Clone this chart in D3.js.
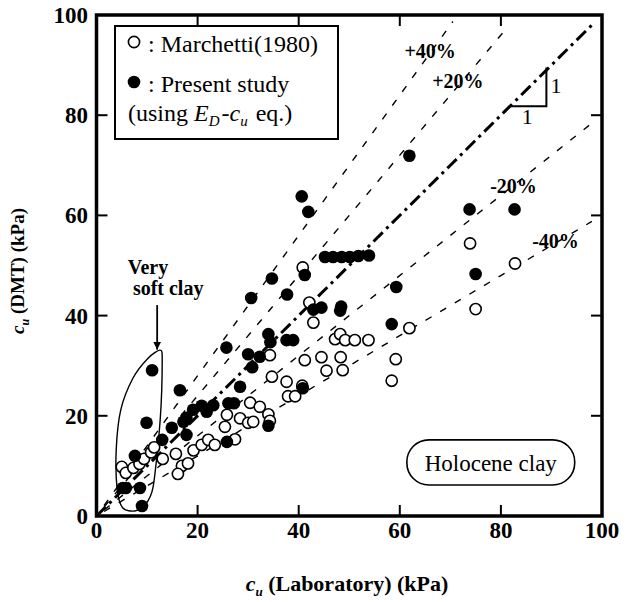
<!DOCTYPE html>
<html>
<head>
<meta charset="utf-8">
<script src="https://cdn.jsdelivr.net/npm/d3@7"></script>
<style>
  body { margin: 0; background: #fff; }
  svg text { font-family: "Liberation Serif", "Times New Roman", serif; fill: #000; }
</style>
</head>
<body>
<div id="chart"></div>
<script>
// Marchetti (1980) - open circles
const marchettiLab = [5.0, 5.8, 7.3, 8.5, 9.4, 10.8, 11.4, 13.1, 15.7, 16.9, 16.1, 18.1, 19.2, 20.8, 22.1, 23.4,
  25.4, 25.8, 27.4, 28.4, 30.0, 31.0, 30.4, 32.3, 34.0, 34.3, 37.9, 39.3, 37.6, 34.7, 34.3, 41.2, 42.1, 42.9,
  40.8, 47.2, 48.2, 49.2, 51.1, 53.8, 44.5, 45.5, 48.3, 48.7, 59.2, 58.4, 61.9, 75.0, 73.9, 82.8, 40.7];
const marchettiDmt = [9.8, 8.6, 9.6, 10.4, 11.4, 12.7, 13.7, 11.4, 12.4, 10.0, 8.4, 10.5, 13.1, 14.2, 15.2, 14.2,
  17.8, 20.2, 15.3, 19.5, 18.6, 18.8, 22.6, 21.8, 20.3, 19.0, 23.9, 23.9, 26.8, 27.8, 32.1, 31.1, 42.6, 38.6,
  49.6, 35.3, 36.3, 35.1, 35.1, 35.1, 31.7, 29.0, 31.7, 29.1, 31.3, 27.0, 37.5, 41.3, 54.4, 50.4, 26.0];

// Present study (using ED-cu eq.) - filled circles
const presentLab = [11.0, 9.9, 5.2, 5.8, 8.6, 9.0, 7.6, 13.0, 16.5, 14.9, 17.2, 17.8, 17.8, 19.1, 20.8, 21.8,
  23.1, 26.1, 27.2, 25.8, 25.7, 28.4, 30.6, 30.0, 30.8, 32.3, 34.0, 34.4, 34.0, 37.6, 38.9, 37.7, 40.8, 41.2,
  42.9, 44.5, 48.2, 48.4, 40.6, 41.9, 45.2, 46.8, 48.5, 50.1, 51.8, 53.9, 34.7, 59.3, 58.4, 61.9, 73.8, 82.7, 75.0];
const presentDmt = [29.1, 18.6, 5.6, 5.6, 5.6, 2.0, 12.0, 15.2, 25.1, 17.6, 18.8, 19.6, 16.2, 21.2, 22.0, 20.8,
  22.1, 22.5, 22.5, 14.8, 33.6, 25.8, 43.5, 32.3, 29.7, 31.8, 36.3, 34.7, 18.0, 35.1, 35.1, 44.2, 25.5, 48.1,
  41.2, 41.6, 41.0, 41.8, 63.8, 60.7, 51.7, 51.7, 51.7, 51.7, 51.9, 52.0, 47.4, 45.7, 38.3, 71.9, 61.2, 61.2, 48.3];

// reference lines cu(DMT) = ratio * cu(Lab)
const refRatios = [1.4, 1.2, 0.8, 0.6];
const refLabels = ["+40%", "+20%", "-20%", "-40%"];
const refEndX = [70.5, 80.5, 98.5, 98];
const refLabelX = [66.0, 71.5, 82.5, 90.8];
const refLabelY = [91.5, 85.5, 64.5, 53.5];

const tickValues = [0, 20, 40, 60, 80, 100];

// outline around the "very soft clay" points (lab, dmt)
const softClayOutline = [[12.6, 33.1], [13.0, 31.1], [12.6, 19.2], [11.2, 5.8], [9.6, 2.2], [7.6, 1.0],
  [5.2, 1.6], [4.1, 5.2], [3.9, 13.2], [4.8, 21.2], [7.2, 27.5], [10.2, 31.5]];

const width = 633;
const height = 602;

const svg = d3.select("#chart").append("svg")
  .attr("width", width)
  .attr("height", height);

const x = d3.scaleLinear().domain([0, 100]).range([96.5, 602]);
const y = d3.scaleLinear().domain([0, 100]).range([516, 15]);

// reference lines (+-20%, +-40%)
refRatios.forEach((r, i) => {
  svg.append("line")
    .attr("x1", x(1.5)).attr("y1", y(1.5 * r))
    .attr("x2", x(refEndX[i])).attr("y2", y(refEndX[i] * r))
    .attr("stroke", "#000")
    .attr("stroke-width", 1.4)
    .attr("stroke-dasharray", "7,10");
  svg.append("text")
    .attr("x", x(refLabelX[i]))
    .attr("y", y(refLabelY[i]))
    .attr("text-anchor", "middle")
    .attr("font-size", 20)
    .attr("font-weight", "bold")
    .text(refLabels[i]);
});

// 1:1 line
svg.append("line")
  .attr("x1", x(0)).attr("y1", y(0))
  .attr("x2", x(98)).attr("y2", y(98))
  .attr("stroke", "#000")
  .attr("stroke-width", 3)
  .attr("stroke-dasharray", "13,5,3,5");

// slope triangle
svg.append("path")
  .attr("d", d3.line()([[x(81.8), y(81.8)], [x(89), y(81.8)], [x(89), y(89.5)]]))
  .attr("fill", "none")
  .attr("stroke", "#000")
  .attr("stroke-width", 2);
svg.append("text").attr("x", x(90.9)).attr("y", y(84.4)).attr("text-anchor", "middle")
  .attr("font-size", 22).text("1");
svg.append("text").attr("x", x(85.2)).attr("y", y(78.2)).attr("text-anchor", "middle")
  .attr("font-size", 22).text("1");

// very soft clay outline + label
svg.append("path")
  .attr("d", d3.line().x(d => x(d[0])).y(d => y(d[1])).curve(d3.curveCardinalClosed.tension(0.2))(softClayOutline))
  .attr("fill", "none")
  .attr("stroke", "#000")
  .attr("stroke-width", 1.4);

svg.append("text").attr("x", x(6.2)).attr("y", y(48.4))
  .attr("font-size", 20).attr("font-weight", "bold").text("Very");
svg.append("text").attr("x", x(7.2)).attr("y", y(44.2))
  .attr("font-size", 20).attr("font-weight", "bold").text("soft clay");

svg.append("defs").append("marker")
  .attr("id", "arrow")
  .attr("viewBox", "0 0 10 10")
  .attr("refX", 10).attr("refY", 5)
  .attr("markerWidth", 8).attr("markerHeight", 8)
  .attr("markerUnits", "userSpaceOnUse")
  .attr("orient", "auto")
  .append("path").attr("d", "M0,0L10,5L0,10Z").attr("fill", "#000");
svg.append("line")
  .attr("x1", x(12.0)).attr("y1", y(42.1))
  .attr("x2", x(12.0)).attr("y2", y(33.2))
  .attr("stroke", "#000").attr("stroke-width", 1.8)
  .attr("marker-end", "url(#arrow)");

// points
svg.append("g").selectAll("circle")
  .data(d3.range(marchettiLab.length))
  .join("circle")
  .attr("cx", i => x(marchettiLab[i]))
  .attr("cy", i => y(marchettiDmt[i]))
  .attr("r", 5.6)
  .attr("fill", "#fff")
  .attr("stroke", "#000")
  .attr("stroke-width", 1.6);

svg.append("g").selectAll("circle")
  .data(d3.range(presentLab.length))
  .join("circle")
  .attr("cx", i => x(presentLab[i]))
  .attr("cy", i => y(presentDmt[i]))
  .attr("r", 6.3)
  .attr("fill", "#000");

// frame and ticks
svg.append("rect")
  .attr("x", x(0)).attr("y", y(100))
  .attr("width", x(100) - x(0)).attr("height", y(0) - y(100))
  .attr("fill", "none")
  .attr("stroke", "#000")
  .attr("stroke-width", 3.5);

const inner = tickValues.slice(1, -1);
const tl = 11;
inner.forEach(v => {
  svg.append("line").attr("x1", x(v)).attr("x2", x(v)).attr("y1", y(0)).attr("y2", y(0) - tl)
    .attr("stroke", "#000").attr("stroke-width", 2);
  svg.append("line").attr("x1", x(v)).attr("x2", x(v)).attr("y1", y(100)).attr("y2", y(100) + tl)
    .attr("stroke", "#000").attr("stroke-width", 2);
  svg.append("line").attr("x1", x(0)).attr("x2", x(0) + tl).attr("y1", y(v)).attr("y2", y(v))
    .attr("stroke", "#000").attr("stroke-width", 2);
  svg.append("line").attr("x1", x(100)).attr("x2", x(100) - tl).attr("y1", y(v)).attr("y2", y(v))
    .attr("stroke", "#000").attr("stroke-width", 2);
});

tickValues.forEach(v => {
  svg.append("text")
    .attr("x", x(v)).attr("y", 538)
    .attr("text-anchor", "middle")
    .attr("font-size", 23).attr("font-weight", "bold")
    .text(v);
  svg.append("text")
    .attr("x", 88).attr("y", y(v) + 8)
    .attr("text-anchor", "end")
    .attr("font-size", 23).attr("font-weight", "bold")
    .text(v);
});

// axis titles
const xTitle = svg.append("text")
  .attr("x", 347).attr("y", 591)
  .attr("text-anchor", "middle")
  .attr("font-size", 22).attr("font-weight", "bold");
xTitle.append("tspan").attr("font-style", "italic").text("c");
xTitle.append("tspan").attr("font-size", 13).attr("font-style", "italic").attr("dy", 5).text("u");
xTitle.append("tspan").attr("dy", -5).text(" (Laboratory) (kPa)");

const yTitle = svg.append("text")
  .attr("transform", "translate(24,271) rotate(-90)")
  .attr("text-anchor", "middle")
  .attr("font-size", 19).attr("font-weight", "bold");
yTitle.append("tspan").attr("font-style", "italic").text("c");
yTitle.append("tspan").attr("font-size", 12).attr("font-style", "italic").attr("dy", 5).text("u");
yTitle.append("tspan").attr("dy", -5).text(" (DMT) (kPa)");

// legend
const lg = svg.append("g");
lg.append("rect")
  .attr("x", 115).attr("y", 26).attr("width", 223).attr("height", 113)
  .attr("fill", "#fff").attr("stroke", "#000").attr("stroke-width", 2);
lg.append("circle").attr("cx", 134).attr("cy", 42).attr("r", 5.6)
  .attr("fill", "#fff").attr("stroke", "#000").attr("stroke-width", 1.6);
lg.append("text").attr("x", 148).attr("y", 52).attr("font-size", 24).text(": Marchetti(1980)");
lg.append("circle").attr("cx", 134).attr("cy", 82).attr("r", 6.3).attr("fill", "#000");
lg.append("text").attr("x", 148).attr("y", 92).attr("font-size", 24).text(": Present study");
const l3 = lg.append("text").attr("x", 128).attr("y", 121).attr("font-size", 24);
l3.append("tspan").text("(using ");
l3.append("tspan").attr("font-style", "italic").text("E");
l3.append("tspan").attr("font-style", "italic").attr("font-size", 15).attr("dy", 5).text("D");
l3.append("tspan").attr("dy", -5).attr("dx", 2).text("-");
l3.append("tspan").attr("font-style", "italic").text("c");
l3.append("tspan").attr("font-style", "italic").attr("font-size", 15).attr("dy", 5).text("u");
l3.append("tspan").attr("dy", -5).attr("dx", 2).text(" eq.)");

// Holocene clay box
svg.append("rect")
  .attr("x", x(61.4)).attr("y", y(15.2))
  .attr("width", x(94.6) - x(61.4)).attr("height", y(6.2) - y(15.2))
  .attr("rx", 22).attr("ry", 22)
  .attr("fill", "#fff").attr("stroke", "#000").attr("stroke-width", 1.6);
svg.append("text")
  .attr("x", x(78)).attr("y", y(9.0))
  .attr("text-anchor", "middle")
  .attr("font-size", 23)
  .text("Holocene clay");
</script>
</body>
</html>
